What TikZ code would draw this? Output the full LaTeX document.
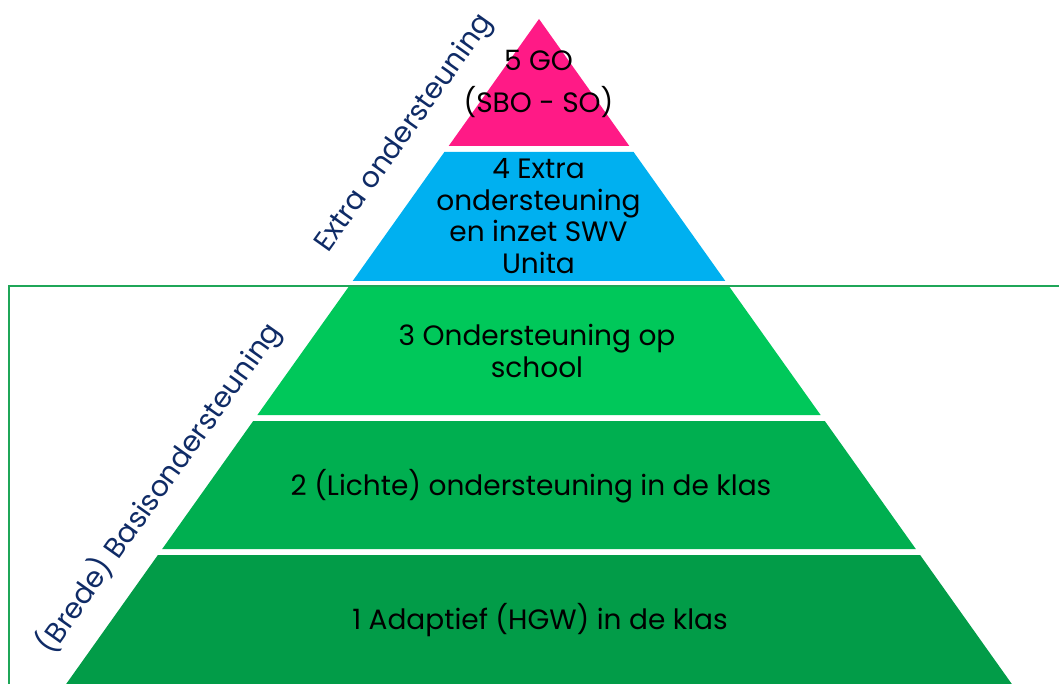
\documentclass[tikz,border=0pt]{standalone}
\usepackage{fontspec}
\setmainfont{Poppins}
\definecolor{pinkL}{HTML}{FF1A86}
\definecolor{blueL}{HTML}{00B0F0}
\definecolor{greenC}{HTML}{00C85A}
\definecolor{greenB}{HTML}{00AF50}
\definecolor{greenA}{HTML}{029C48}
\definecolor{frameG}{HTML}{1FA658}
\definecolor{navy}{HTML}{0F2B66}
\tikzset{
  layertext/.style={font=\fontsize{28}{31.5}\selectfont, text=black, align=center, inner sep=0pt},
  sidetext/.style={font=\fontsize{28.5}{31}\selectfont, text=navy, inner sep=0pt, rotate=54.6},
}
\begin{document}
\begin{tikzpicture}[x=1pt,y=-1pt]
\useasboundingbox (0,0) rectangle (1059,684);
\clip (0,0) rectangle (1059,684);
% frame of basic support
\draw[frameG, line width=2pt] (1070,285.7) -- (9,285.7) -- (9,700);
% layers
\fill[pinkL]  (539,19) -- (629.3,146) -- (448.7,146) -- cycle;
\fill[blueL]  (444.4,152) -- (633.6,152) -- (725.3,281) -- (352.7,281) -- cycle;
\fill[greenC] (348.5,287) -- (729.5,287) -- (820.6,415) -- (257.4,415) -- cycle;
\fill[greenB] (253.2,421) -- (824.8,421) -- (915.8,549) -- (162.2,549) -- cycle;
\fill[greenA] (157.9,555) -- (920.1,555) -- (1023.2,700) -- (54.8,700) -- cycle;
% texts
\node[layertext] (t5a) at (538.5,60) {5 GO};
\node[layertext] (t5b) at (538.5,102) {(SBO - SO)};
\node[layertext] (t4) at (538.5,216) {4 Extra\\ondersteuning\\en inzet SWV\\Unita};
\node[layertext] (t3) at (537,351) {3 Ondersteuning op\\school};
\node[layertext] (t2) at (531,486) {2 (Lichte) ondersteuning in de klas};
\node[layertext] (t1) at (540,620) {1 Adaptief (HGW) in de klas};
\node[sidetext] (s1) at (405,134) {Extra ondersteuning};
\node[sidetext] (s2) at (159,488) {(Brede) Basisondersteuning};
\end{tikzpicture}
\end{document}
